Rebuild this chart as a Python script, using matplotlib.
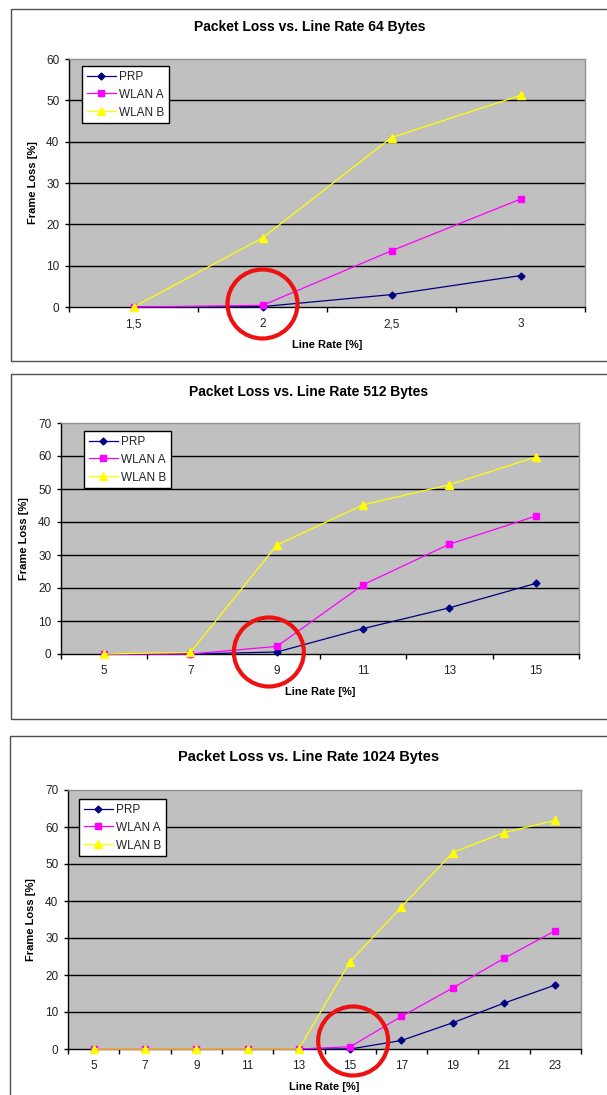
import matplotlib
matplotlib.use('Agg')
import numpy as np
import matplotlib.pyplot as plt
from matplotlib.patches import Rectangle, Ellipse

plt.rcParams['font.family'] = ['Liberation Sans', 'DejaVu Sans']

series_names = ['PRP', 'WLAN A', 'WLAN B']
series_colors = ['#000080', '#ff00ff', '#ffff00']
series_markers = ['D', 's', '^']
series_sizes = [3.5, 4.5, 5.5]

# 64 byte frames
rates_64 = ['1,5', '2', '2,5', '3']
prp_64 = [0.0, 0.1, 3.0, 7.6]
wlan_a_64 = [0.0, 0.4, 13.6, 26.1]
wlan_b_64 = [0.0, 16.7, 41.0, 51.2]

# 512 byte frames
rates_512 = ['5', '7', '9', '11', '13', '15']
prp_512 = [0.0, 0.0, 0.6, 7.7, 14.0, 21.4]
wlan_a_512 = [0.0, 0.0, 2.3, 21.0, 33.3, 41.8]
wlan_b_512 = [0.0, 0.5, 33.0, 45.2, 51.3, 59.7]

# 1024 byte frames
rates_1024 = ['5', '7', '9', '11', '13', '15', '17', '19', '21', '23']
prp_1024 = [0.0, 0.0, 0.0, 0.0, 0.0, 0.0, 2.3, 7.1, 12.4, 17.3]
wlan_a_1024 = [0.0, 0.0, 0.0, 0.0, 0.0, 0.6, 8.8, 16.5, 24.5, 32.0]
wlan_b_1024 = [0.0, 0.0, 0.0, 0.0, 0.0, 23.6, 38.4, 53.1, 58.5, 61.8]

# rate where the curves start to rise
knee_64 = '2'
knee_512 = '9'
knee_1024 = '15'

W, H = 607, 1095
fig = plt.figure(figsize=(W / 100, H / 100), dpi=100)
fig.patch.set_facecolor('white')


def fx(x):
    return x / W


def fy(y):
    return 1 - y / H


def draw_panel(frame, box, title, title_xy, title_size, cats, series, ymax,
               legend_at, ylabel_x, xlabel_y, knee, ring_shift):
    # outer chart frame
    fl, ft, fr, fb = frame
    fig.add_artist(Rectangle((fx(fl), fy(fb)), fx(fr - fl), (fb - ft) / H,
                             transform=fig.transFigure, fill=False,
                             ec='#505050', lw=1.0))
    l, t, r, b = box
    ax = fig.add_axes([fx(l), fy(b), fx(r - l), (b - t) / H])
    ax.set_facecolor('#c0c0c0')

    n = len(cats)
    x = np.arange(n)
    ax.set_xlim(-0.5, n - 0.5)
    ax.set_ylim(0, ymax)
    yt = np.arange(0, ymax + 1, 10)
    for v in yt[1:-1]:
        ax.axhline(v, color='black', lw=1.0, zorder=1)

    for vals, name, c, m, s in zip(series, series_names, series_colors,
                                   series_markers, series_sizes):
        ax.plot(x, vals, color=c, lw=0.9, marker=m, ms=s, mfc=c, mec=c,
                label=name, zorder=3, clip_on=False)

    ax.set_xticks(x)
    ax.set_xticklabels(cats)
    ax.set_xticks(np.arange(n + 1) - 0.5, minor=True)
    ax.tick_params(axis='x', which='major', length=0, pad=8, labelsize=8.5,
                   labelcolor='#222222')
    ax.tick_params(axis='x', which='minor', length=3.5, width=1,
                   direction='out', color='black')
    ax.set_yticks(yt)
    ax.tick_params(axis='y', length=3, width=1, direction='out', pad=4,
                   labelsize=8.5, labelcolor='#222222')

    ax.spines['left'].set_color('black')
    ax.spines['bottom'].set_color('black')
    ax.spines['top'].set_color('#909090')
    ax.spines['right'].set_color('#909090')
    for sp in ax.spines.values():
        sp.set_linewidth(1.0)

    lx, ly = legend_at
    leg = ax.legend(loc='upper left',
                    bbox_to_anchor=((lx - l) / (r - l), 1 - (ly - t) / (b - t)),
                    borderaxespad=0, fontsize=8.5, frameon=True, fancybox=False,
                    edgecolor='black', framealpha=1, handlelength=2.5,
                    handletextpad=0.2, labelspacing=0.5, borderpad=0.4)
    leg.get_frame().set_linewidth(1.0)
    for txt in leg.get_texts():
        txt.set_color('#222222')

    tx, ty = title_xy
    fig.text(fx(tx), fy(ty), title, ha='center', va='center',
             fontsize=title_size, fontweight='bold')
    fig.text(fx((l + r) / 2), fy(xlabel_y), 'Line Rate [%]', ha='center',
             va='center', fontsize=8, fontweight='bold')
    fig.text(fx(ylabel_x), fy((t + b) / 2), 'Frame Loss [%]', ha='center',
             va='center', rotation=90, fontsize=8, fontweight='bold')

    # red ring around the knee point
    px, py = ax.transData.transform((cats.index(knee), 0))
    px += ring_shift[0]
    py += ring_shift[1]
    fig.add_artist(Ellipse((px / W, py / H), 70 / W, 69 / H,
                           transform=fig.transFigure, fill=False,
                           ec='#ee1111', lw=3.0, zorder=10))
    return ax


draw_panel((11, 9, 612, 361), (69, 59, 585, 307),
           'Packet Loss vs. Line Rate 64 Bytes', (310, 27), 10,
           rates_64, [prp_64, wlan_a_64, wlan_b_64], 60,
           (82, 66), 33, 345, knee_64, (0, 3))

draw_panel((11, 374, 612, 719), (61, 423, 579, 654),
           'Packet Loss vs. Line Rate 512 Bytes', (309, 392), 10,
           rates_512, [prp_512, wlan_a_512, wlan_b_512], 70,
           (84, 431), 24, 692, knee_512, (-8, 2))

draw_panel((10, 736, 612, 1110), (68, 790, 581, 1049),
           'Packet Loss vs. Line Rate 1024 Bytes', (309, 757), 10.5,
           rates_1024, [prp_1024, wlan_a_1024, wlan_b_1024], 70,
           (79, 799), 31, 1087, knee_1024, (3, 8))

fig.savefig('out.png', dpi=100, facecolor='white')
